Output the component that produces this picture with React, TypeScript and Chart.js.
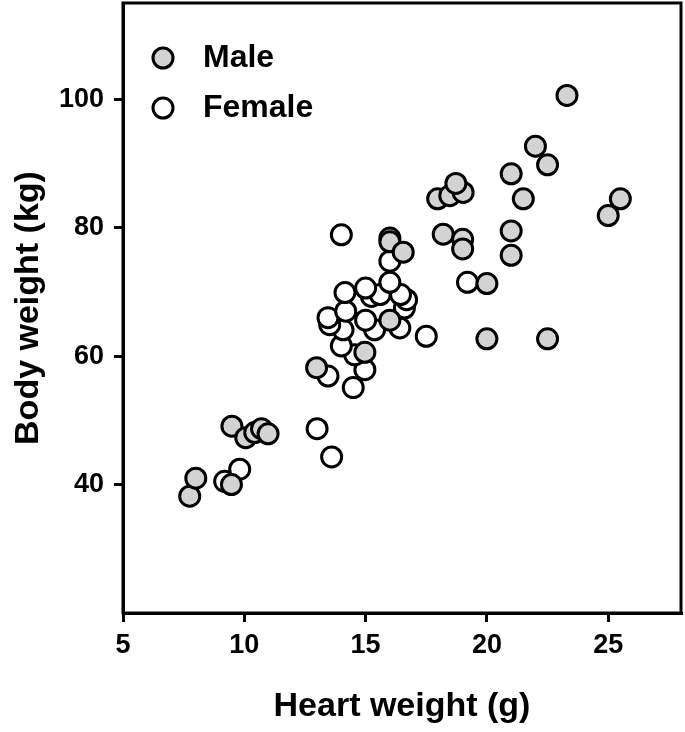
import { useEffect, useRef } from "react";
import { Chart, registerables } from "chart.js";

Chart.register(...registerables);

// ---- data ----
const seriesLabels = ["Male", "Female"];

const maleHeart = [
  7.75, 8.0, 9.47, 9.49, 10.06, 10.43, 10.71, 10.98, 12.98, 14.97, 16.0, 16.0, 16.0,
  16.55, 17.97, 18.47, 19.02, 18.72, 18.2, 19.0, 19.0, 20.0, 20.0, 21.0, 21.0, 21.0,
  21.5, 22.0, 22.5, 22.5, 23.3, 25.0, 25.5,
];
const maleBody = [
  38.2, 41.0, 40.0, 49.1, 47.3, 48.1, 48.7, 47.9, 58.2, 60.6, 65.6, 78.4, 77.8,
  76.2, 84.5, 85.0, 85.5, 86.9, 79.0, 78.2, 76.7, 71.3, 62.7, 79.5, 75.7, 88.4,
  84.5, 92.7, 89.8, 62.7, 100.6, 81.9, 84.5,
];

const femaleHeart = [
  9.19, 9.81, 13.0, 13.6, 14.49, 13.45, 14.97, 14.55, 14.0, 14.07, 15.37, 16.41,
  13.52, 13.45, 15.0, 14.18, 16.6, 16.69, 16.44, 15.24, 15.6, 14.15, 15.0, 16.0,
  16.0, 14.0, 17.5, 19.2,
];
const femaleBody = [
  40.5, 42.4, 48.7, 44.3, 55.1, 56.9, 57.9, 60.2, 61.6, 64.1, 64.1, 64.4, 64.9,
  66.0, 65.6, 67.0, 67.5, 68.8, 69.6, 69.3, 69.6, 69.9, 70.6, 71.5, 74.8, 78.9,
  63.1, 71.5,
];

const xTickValues = [5, 10, 15, 20, 25];
const yTickValues = [40, 60, 80, 100];
const xTitle = "Heart weight (g)";
const yTitle = "Body weight (kg)";

const FONT = '"Liberation Sans", Arial, Helvetica, sans-serif';

const framePlugin = {
  id: "frame",
  beforeDatasetsDraw(chart: any) {
    const { ctx, chartArea } = chart;
    ctx.save();
    ctx.strokeStyle = "#000";
    ctx.lineWidth = 3;
    ctx.strokeRect(
      chartArea.left,
      chartArea.top,
      chartArea.right - chartArea.left,
      chartArea.bottom - chartArea.top
    );
    ctx.restore();
  },
};

const legendPlugin = {
  id: "innerLegend",
  afterDraw(chart: any) {
    const { ctx, chartArea } = chart;
    chart.data.datasets.forEach((ds: any, i: number) => {
      const cx = chartArea.left + 40;
      const cy = chartArea.top + 55 + i * 50;
      ctx.save();
      ctx.beginPath();
      ctx.arc(cx, cy, 10, 0, Math.PI * 2);
      ctx.fillStyle = ds.backgroundColor;
      ctx.fill();
      ctx.lineWidth = 3;
      ctx.strokeStyle = ds.borderColor;
      ctx.stroke();
      ctx.font = `bold 32px ${FONT}`;
      ctx.fillStyle = "#000";
      ctx.textAlign = "left";
      ctx.textBaseline = "middle";
      ctx.fillText(ds.label, cx + 40, cy);
      ctx.restore();
    });
  },
};

const zeroPad = (s: any) => {
  s.paddingTop = 0;
  s.paddingBottom = 0;
  s.paddingLeft = 0;
  s.paddingRight = 0;
};

export default function App() {
  const canvasRef = useRef<HTMLCanvasElement | null>(null);

  useEffect(() => {
    document.body.style.margin = "0";
    const canvas = canvasRef.current;
    if (!canvas) return;

    const male = maleHeart.map((x, i) => ({ x, y: maleBody[i] }));
    const female = femaleHeart.map((x, i) => ({ x, y: femaleBody[i] }));

    const tickFont = { size: 27, weight: "bold" as const, family: FONT };
    const titleFont = { size: 34, weight: "bold" as const, family: FONT };

    const chart = new Chart(canvas, {
      type: "scatter",
      data: {
        datasets: [
          {
            label: seriesLabels[0],
            data: male,
            backgroundColor: "#d3d3d3",
            borderColor: "#000000",
            pointRadius: 10,
            pointHoverRadius: 10,
            pointBorderWidth: 3,
          },
          {
            label: seriesLabels[1],
            data: female,
            backgroundColor: "#ffffff",
            borderColor: "#000000",
            pointRadius: 10,
            pointHoverRadius: 10,
            pointBorderWidth: 3,
          },
        ],
      },
      options: {
        responsive: false,
        animation: false,
        events: [],
        layout: { autoPadding: false, padding: { top: 3, right: 4, left: 0, bottom: 0 } },
        plugins: {
          legend: { display: false },
          tooltip: { enabled: false },
        },
        scales: {
          x: {
            type: "linear",
            min: 5,
            max: 28,
            afterBuildTicks: (s: any) => {
              s.ticks = xTickValues.map((v) => ({ value: v }));
            },
            afterFit: (s: any) => {
              s.height = 119;
              zeroPad(s);
            },
            grid: {
              display: true,
              drawOnChartArea: false,
              drawTicks: true,
              tickLength: 9,
              tickWidth: 3,
              tickColor: "#000",
              color: "#000",
              lineWidth: 3,
            },
            border: { display: true, color: "#000", width: 3 },
            ticks: {
              color: "#000",
              font: tickFont,
              padding: 7,
              maxRotation: 0,
              autoSkip: false,
            },
            title: {
              display: true,
              text: xTitle,
              color: "#000",
              font: titleFont,
              padding: { top: 0, bottom: 5 },
            },
          },
          y: {
            type: "linear",
            min: 20,
            max: 115,
            afterBuildTicks: (s: any) => {
              s.ticks = yTickValues.map((v) => ({ value: v }));
            },
            afterFit: (s: any) => {
              s.width = 123;
              zeroPad(s);
            },
            grid: {
              display: true,
              drawOnChartArea: false,
              drawTicks: true,
              tickLength: 9,
              tickWidth: 3,
              tickColor: "#000",
              color: "#000",
              lineWidth: 3,
            },
            border: { display: true, color: "#000", width: 3 },
            ticks: {
              color: "#000",
              font: tickFont,
              padding: 10,
              autoSkip: false,
            },
            title: {
              display: true,
              text: yTitle,
              color: "#000",
              font: titleFont,
              padding: { top: 8, bottom: 0 },
            },
          },
        },
      },
      plugins: [framePlugin, legendPlugin],
    });

    return () => {
      chart.destroy();
    };
  }, []);

  return (
    <div style={{ width: 685, height: 732, position: "relative", background: "#fff" }}>
      <canvas ref={canvasRef} width={685} height={732} style={{ display: "block", width: 685, height: 732 }} />
    </div>
  );
}
